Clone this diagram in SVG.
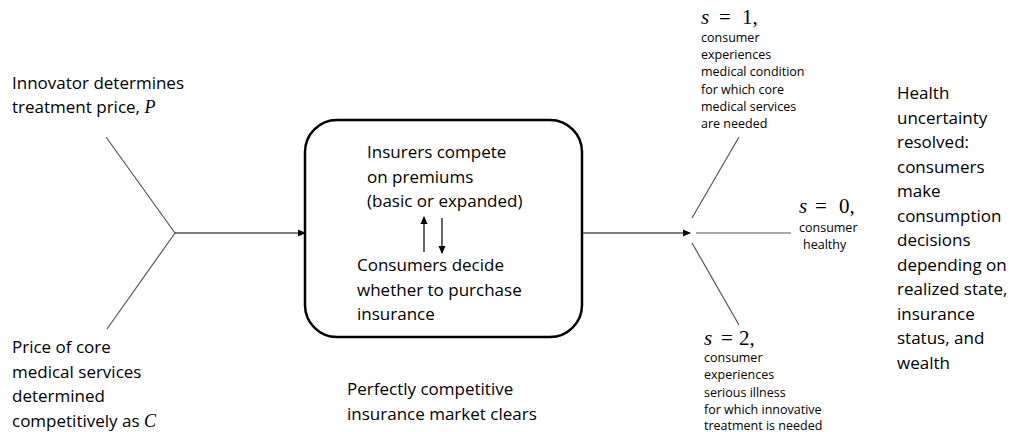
<svg xmlns="http://www.w3.org/2000/svg" width="1013" height="432" viewBox="0 0 1013 432">
<defs>
<marker id="ah" markerWidth="8" markerHeight="8" refX="7" refY="4" orient="auto" markerUnits="userSpaceOnUse">
<path d="M0,0.5 L8,4 L0,7.5 z" fill="#000"/>
</marker>
<style>
.t{font-family:"Open Sans","Liberation Sans",Arial,sans-serif;font-size:17px;fill:#000}
.s{font-family:"Open Sans","Liberation Sans",Arial,sans-serif;font-size:12.5px;fill:#000}
.m{font-family:"Liberation Serif","DejaVu Serif",serif;font-size:21px;fill:#000}
.mi{font-style:italic;font-family:"Liberation Serif","DejaVu Serif",serif}
.thin{stroke:#555;stroke-width:1.2;fill:none}
.con{stroke:#000;stroke-width:1.2;fill:none}
</style>
</defs>
<rect width="1013" height="432" fill="#fff"/>
<g id="innovator">
<text class="t" x="12" y="89">Innovator determines</text>
<text class="t" x="12" y="113">treatment price, <tspan class="mi" font-size="18">P</tspan></text>
</g>
<g id="core-price">
<text class="t" x="12" y="353">Price of core</text>
<text class="t" x="12" y="378">medical services</text>
<text class="t" x="12" y="402">determined</text>
<text class="t" x="12" y="427">competitively as <tspan class="mi" font-size="18">C</tspan></text>
</g>
<g id="market">
<rect x="305" y="120" width="277" height="217" rx="32" ry="32" fill="#fff" stroke="#000" stroke-width="2.5"/>
<text class="t" x="367" y="158">Insurers compete</text>
<text class="t" x="367" y="183">on premiums</text>
<text class="t" x="367" y="207">(basic or expanded)</text>
<text class="t" x="357" y="271">Consumers decide</text>
<text class="t" x="357" y="296">whether to purchase</text>
<text class="t" x="357" y="320">insurance</text>
</g>
<g id="market-label">
<text class="t" x="347" y="395">Perfectly competitive</text>
<text class="t" x="347" y="420">insurance market clears</text>
</g>
<g id="state1">
<text class="m" y="24"><tspan class="mi" x="701">s</tspan><tspan x="719">=</tspan><tspan x="742">1,</tspan></text>
<text class="s" x="701" y="42">consumer</text>
<text class="s" x="701" y="59">experiences</text>
<text class="s" x="701" y="76">medical condition</text>
<text class="s" x="701" y="94">for which core</text>
<text class="s" x="701" y="111">medical services</text>
<text class="s" x="701" y="128">are needed</text>
</g>
<g id="state0">
<text class="m" y="213"><tspan class="mi" x="799">s</tspan><tspan x="815">=</tspan><tspan x="839">0,</tspan></text>
<text class="s" x="799" y="232">consumer</text>
<text class="s" x="803" y="249">healthy</text>
</g>
<g id="state2">
<text class="m" y="345"><tspan class="mi" x="704">s</tspan><tspan x="721">=</tspan><tspan x="739">2,</tspan></text>
<text class="s" x="704" y="362">consumer</text>
<text class="s" x="704" y="379">experiences</text>
<text class="s" x="704" y="397">serious illness</text>
<text class="s" x="704" y="414">for which innovative</text>
<text class="s" x="704" y="430">treatment  is needed</text>
</g>
<g id="outcome">
<text class="t" x="897" y="99">Health</text>
<text class="t" x="897" y="124">uncertainty</text>
<text class="t" x="897" y="148">resolved:</text>
<text class="t" x="897" y="173">consumers</text>
<text class="t" x="897" y="197">make</text>
<text class="t" x="897" y="222">consumption</text>
<text class="t" x="897" y="246">decisions</text>
<text class="t" x="897" y="271">depending on</text>
<text class="t" x="897" y="295">realized state,</text>
<text class="t" x="897" y="320">insurance</text>
<text class="t" x="897" y="344">status, and</text>
<text class="t" x="897" y="369">wealth</text>
</g>
<g id="connectors">
<line class="thin" x1="106" y1="137" x2="175" y2="233"/>
<line class="thin" x1="175" y1="233" x2="107" y2="329"/>
<line class="con" x1="175" y1="233" x2="305" y2="233" marker-end="url(#ah)"/>
<line class="con" x1="582" y1="233" x2="690" y2="233" marker-end="url(#ah)"/>
<line class="thin" x1="692" y1="218" x2="739" y2="137"/>
<line class="thin" x1="696" y1="233" x2="791" y2="233"/>
<line class="thin" x1="692" y1="243" x2="739" y2="325"/>
<line class="con" x1="424" y1="252" x2="424" y2="217" marker-end="url(#ah)"/>
<line class="con" x1="442" y1="218" x2="442" y2="253" marker-end="url(#ah)"/>
</g>
</svg>
